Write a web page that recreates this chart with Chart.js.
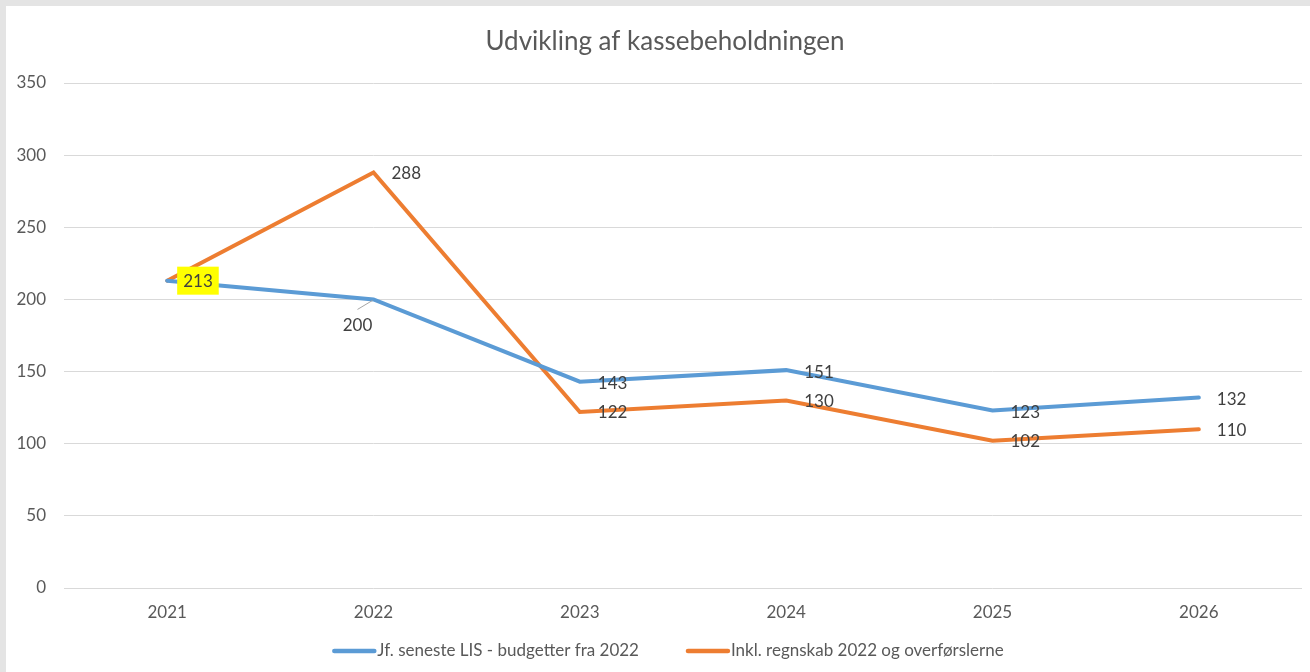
<!DOCTYPE html>
<html><head><meta charset="utf-8">
<script src="https://cdn.jsdelivr.net/npm/chart.js@4.4.1/dist/chart.umd.min.js"></script>
<style>html,body{margin:0;padding:0;overflow:hidden;background:#fff}</style>
</head><body>
<canvas id="c" width="1310" height="672"></canvas>
<script>
const years = ['2021','2022','2023','2024','2025','2026'];
const budget = [213, 200, 143, 151, 123, 132];
const regnskab = [213, 288, 122, 130, 102, 110];
const yMin = 0, yMax = 350, yStep = 50;
const titleText = 'Udvikling af kassebeholdningen';
const seriesNames = ['Jf. seneste LIS - budgetter fra 2022', 'Inkl. regnskab 2022 og overførslerne'];
const colors = ['#5B9BD5', '#ED7D31'];

const FONT = 'Lato, "Open Sans", sans-serif';

const decor = {
  id: 'decor',
  beforeDraw(chart) {
    const c = chart.ctx;
    c.save();
    c.fillStyle = '#ffffff';
    c.fillRect(0, 0, chart.width, chart.height);
    c.fillStyle = '#e4e4e4';
    c.fillRect(0, 0, chart.width, 6);
    c.fillRect(0, 0, 6, chart.height);
    c.restore();
  },
  afterDatasetsDraw(chart) {
    const c = chart.ctx;
    c.save();
    c.font = '17px ' + FONT;
    c.textBaseline = 'middle';
    c.textAlign = 'left';
    const m0 = chart.getDatasetMeta(0).data;
    const m1 = chart.getDatasetMeta(1).data;
    m0.forEach((p, i) => {
      const txt = String(budget[i]);
      if (i === 0) {
        const w = c.measureText(txt).width;
        c.fillStyle = '#ffff00';
        c.fillRect(p.x + 10, p.y - 14, w + 12, 28);
        c.fillStyle = '#404040';
        c.fillText(txt, p.x + 16, p.y + 1);
      } else if (i === 1) {
        c.strokeStyle = '#a6a6a6';
        c.lineWidth = 1;
        c.beginPath();
        c.moveTo(p.x - 16, p.y + 10);
        c.lineTo(p.x - 1, p.y + 1);
        c.stroke();
        c.fillStyle = '#404040';
        c.textAlign = 'center';
        c.fillText(txt, p.x - 16, p.y + 26);
        c.textAlign = 'left';
      } else {
        c.fillStyle = '#404040';
        c.fillText(txt, p.x + 18, p.y + 2);
      }
    });
    m1.forEach((p, i) => {
      if (i === 0) return;
      c.fillStyle = '#404040';
      c.fillText(String(regnskab[i]), p.x + 18, p.y + 1);
    });
    c.restore();
  },
  afterDraw(chart) {
    const c = chart.ctx;
    c.save();
    c.font = '26px ' + FONT;
    c.fillStyle = '#595959';
    c.textAlign = 'center';
    c.textBaseline = 'middle';
    c.fillText(titleText, 665, 42);
    c.font = '17px ' + FONT;
    c.textAlign = 'left';
    const lineLen = 42, gap = 3, itemGap = 47;
    const widths = seriesNames.map(s => c.measureText(s).width);
    const total = widths[0] + widths[1] + 2 * (lineLen + gap) + itemGap;
    let x = 668 - total / 2;
    const y = 651;
    seriesNames.forEach((s, i) => {
      c.strokeStyle = colors[i];
      c.lineWidth = 4.5;
      c.lineCap = 'round';
      c.beginPath();
      c.moveTo(x + 2, y);
      c.lineTo(x + lineLen, y);
      c.stroke();
      c.fillStyle = '#595959';
      c.fillText(s, x + lineLen + gap, y);
      x += lineLen + gap + widths[i] + itemGap;
    });
    c.restore();
  }
};

new Chart(document.getElementById('c'), {
  type: 'line',
  data: {
    labels: years,
    datasets: [
      { label: seriesNames[0], data: budget, borderColor: colors[0], backgroundColor: colors[0],
        borderWidth: 4, pointRadius: 0, tension: 0, borderJoinStyle: 'miter', borderCapStyle: 'round' },
      { label: seriesNames[1], data: regnskab, borderColor: colors[1], backgroundColor: colors[1],
        borderWidth: 4, pointRadius: 0, tension: 0, borderJoinStyle: 'miter', borderCapStyle: 'round' }
    ]
  },
  options: {
    responsive: false,
    animation: false,
    devicePixelRatio: 1,
    layout: { padding: { top: 83, right: 8, bottom: 44, left: 0 } },
    plugins: { legend: { display: false }, title: { display: false }, tooltip: { enabled: false } },
    scales: {
      x: {
        offset: true,
        grid: { display: false, drawTicks: false },
        border: { display: false },
        ticks: { color: '#595959', font: { family: FONT, size: 17 }, padding: 14 },
        afterFit: s => { s.height = 40; }
      },
      y: {
        min: yMin, max: yMax,
        grid: { color: '#d9d9d9', lineWidth: 1, drawTicks: false },
        border: { display: false },
        ticks: { stepSize: yStep, color: '#595959', font: { family: FONT, size: 17 }, padding: 18 },
        afterFit: s => { s.width = 64; }
      }
    }
  },
  plugins: [decor]
});
</script>
</body></html>
